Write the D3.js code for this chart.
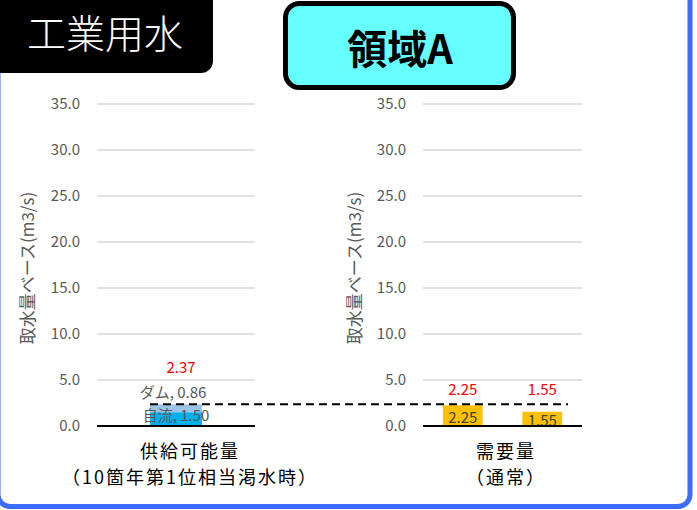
<!DOCTYPE html>
<html><head><meta charset="utf-8">
<script src="https://cdn.jsdelivr.net/npm/d3@7"></script>
<style>
html,body{margin:0;padding:0;background:#fff;}
svg{display:block;font-family:"Noto Sans CJK JP","Noto Sans",sans-serif;}
</style></head>
<body>
<svg id="c" width="697" height="510"></svg>
<script>
// ---- data ----
const yTicks = [0, 5, 10, 15, 20, 25, 30, 35];
const supplyCategory = ["供給可能量", "（10箇年第1位相当渇水時）"];
const supplySeries = ["自流", "ダム"];
const supplyValues = [1.50, 0.86];
const supplyTotal = 2.37;
const demandCategory = ["需要量", "（通常）"];
const demandBars = ["需要1", "需要2"];
const demandValues = [2.25, 1.55];
const demandRedLabels = [2.25, 1.55];
const sectorTitle = "工業用水";
const regionTitle = "領域A";
const yAxisTitle = "取水量ベース(m3/s)";

const svg = d3.select("#c");
const grey = "#595959";

// outer frame
svg.append("rect").attr("x", -2).attr("y", -30).attr("width", 692).attr("height", 536.5)
  .attr("rx", 12).attr("fill", "none").attr("stroke", "#3b6cff").attr("stroke-width", 5);

// title boxes
svg.append("rect").attr("x", -20).attr("y", -20).attr("width", 233).attr("height", 93)
  .attr("rx", 12).attr("fill", "#000");
svg.append("text").attr("x", 105).attr("y", 48).attr("text-anchor", "middle")
  .attr("fill", "#fff").attr("font-size", 39).attr("font-weight", 300).text(sectorTitle);

svg.append("rect").attr("x", 285.5).attr("y", 3.5).attr("width", 228).attr("height", 84)
  .attr("rx", 14).attr("fill", "#66ffff").attr("stroke", "#000").attr("stroke-width", 5);
svg.append("text").attr("x", 400).attr("y", 64).attr("text-anchor", "middle")
  .attr("fill", "#000").attr("font-size", 40).attr("font-weight", "bold").text(regionTitle);

function panel(x0, x1, labelX, titleX) {
  const y = d3.scaleLinear().domain([0, 35]).range([426, 104]);
  const g = svg.append("g");
  g.selectAll("line.grid").data(yTicks.filter(d => d > 0)).join("line")
    .attr("x1", x0).attr("x2", x1).attr("y1", d => y(d)).attr("y2", d => y(d))
    .attr("stroke", "#d9d9d9").attr("stroke-width", 1.5);
  g.selectAll("text.tick").data(yTicks).join("text")
    .attr("x", labelX).attr("y", d => y(d)).attr("dy", "0.36em")
    .attr("text-anchor", "end").attr("font-size", 15).attr("fill", grey)
    .text(d => d3.format(".1f")(d));
  g.append("text").attr("transform", `translate(${titleX},268) rotate(-90)`)
    .attr("text-anchor", "middle").attr("dy", "0.36em")
    .attr("font-size", 17).attr("fill", grey).text(yAxisTitle);
  return y;
}

// ---- left panel: supply ----
const yL = panel(97, 255, 80, 28);
const xL = d3.scaleBand().domain(["供給"]).range([97, 255]).paddingInner(0).paddingOuter(1.02);
const stackColors = ["#00b0f0", "#9dc3e6"];
let cum = 0;
supplyValues.forEach((v, i) => {
  svg.append("rect").attr("x", xL("供給")).attr("width", xL.bandwidth())
    .attr("y", yL(cum + v)).attr("height", yL(cum) - yL(cum + v)).attr("fill", stackColors[i]);
  cum += v;
});
svg.append("line").attr("x1", 97).attr("x2", 255).attr("y1", yL(0)).attr("y2", yL(0))
  .attr("stroke", "#000").attr("stroke-width", 2);
const cxL = xL("供給") + xL.bandwidth() / 2;
svg.append("text").attr("x", cxL).attr("y", (yL(supplyValues[0]) + yL(0)) / 2 - 4).attr("dy", "0.36em")
  .attr("text-anchor", "middle").attr("font-size", 15).attr("fill", grey)
  .text(`${supplySeries[0]}, ${supplyValues[0].toFixed(2)}`);
svg.append("text").attr("x", cxL - 3).attr("y", yL(supplyTotal) - 12).attr("dy", "0.36em")
  .attr("text-anchor", "middle").attr("font-size", 15).attr("fill", grey)
  .text(`${supplySeries[1]}, ${supplyValues[1].toFixed(2)}`);
svg.append("text").attr("x", cxL + 5).attr("y", yL(supplyTotal) - 37).attr("dy", "0.36em")
  .attr("text-anchor", "middle").attr("font-size", 15).attr("fill", "#ff0000")
  .text(supplyTotal.toFixed(2));

// ---- right panel: demand ----
const yR = panel(423, 582, 406, 355);
const xR = d3.scaleBand().domain(demandBars).range([423, 582]).paddingInner(0.5).paddingOuter(0.25);
svg.selectAll("rect.dem").data(demandValues).join("rect")
  .attr("x", (d, i) => xR(demandBars[i])).attr("width", xR.bandwidth())
  .attr("y", d => yR(d)).attr("height", d => yR(0) - yR(d)).attr("fill", "#ffc000");
svg.selectAll("text.demv").data(demandValues).join("text")
  .attr("x", (d, i) => xR(demandBars[i]) + xR.bandwidth() / 2)
  .attr("y", d => (yR(d) + yR(0)) / 2 + 1.5).attr("dy", "0.36em")
  .attr("text-anchor", "middle").attr("font-size", 15).attr("fill", "#404040")
  .text(d => d.toFixed(2));
svg.append("line").attr("x1", 423).attr("x2", 582).attr("y1", yR(0)).attr("y2", yR(0))
  .attr("stroke", "#000").attr("stroke-width", 2);
svg.selectAll("text.red").data(demandRedLabels).join("text")
  .attr("x", (d, i) => xR(demandBars[i]) + xR.bandwidth() / 2)
  .attr("y", yR(4.0)).attr("dy", "0.36em")
  .attr("text-anchor", "middle").attr("font-size", 15).attr("fill", "#ff0000")
  .text(d => d.toFixed(2));

// dashed supply line
svg.append("line").attr("x1", xL("供給")).attr("x2", 568)
  .attr("y1", yL(supplyTotal)).attr("y2", yL(supplyTotal))
  .attr("stroke", "#000").attr("stroke-width", 2).attr("stroke-dasharray", "8,5");

// category labels
function catLabel(cx, lines) {
  lines.forEach((t, i) => {
    svg.append("text").attr("x", cx).attr("y", 452 + i * 26).attr("dy", "0.36em")
      .attr("text-anchor", "middle").attr("letter-spacing", 2)
      .attr("font-size", 18).attr("fill", "#000").text(t);
  });
}
catLabel(190, supplyCategory);
catLabel(506, demandCategory);
</script>
</body></html>
